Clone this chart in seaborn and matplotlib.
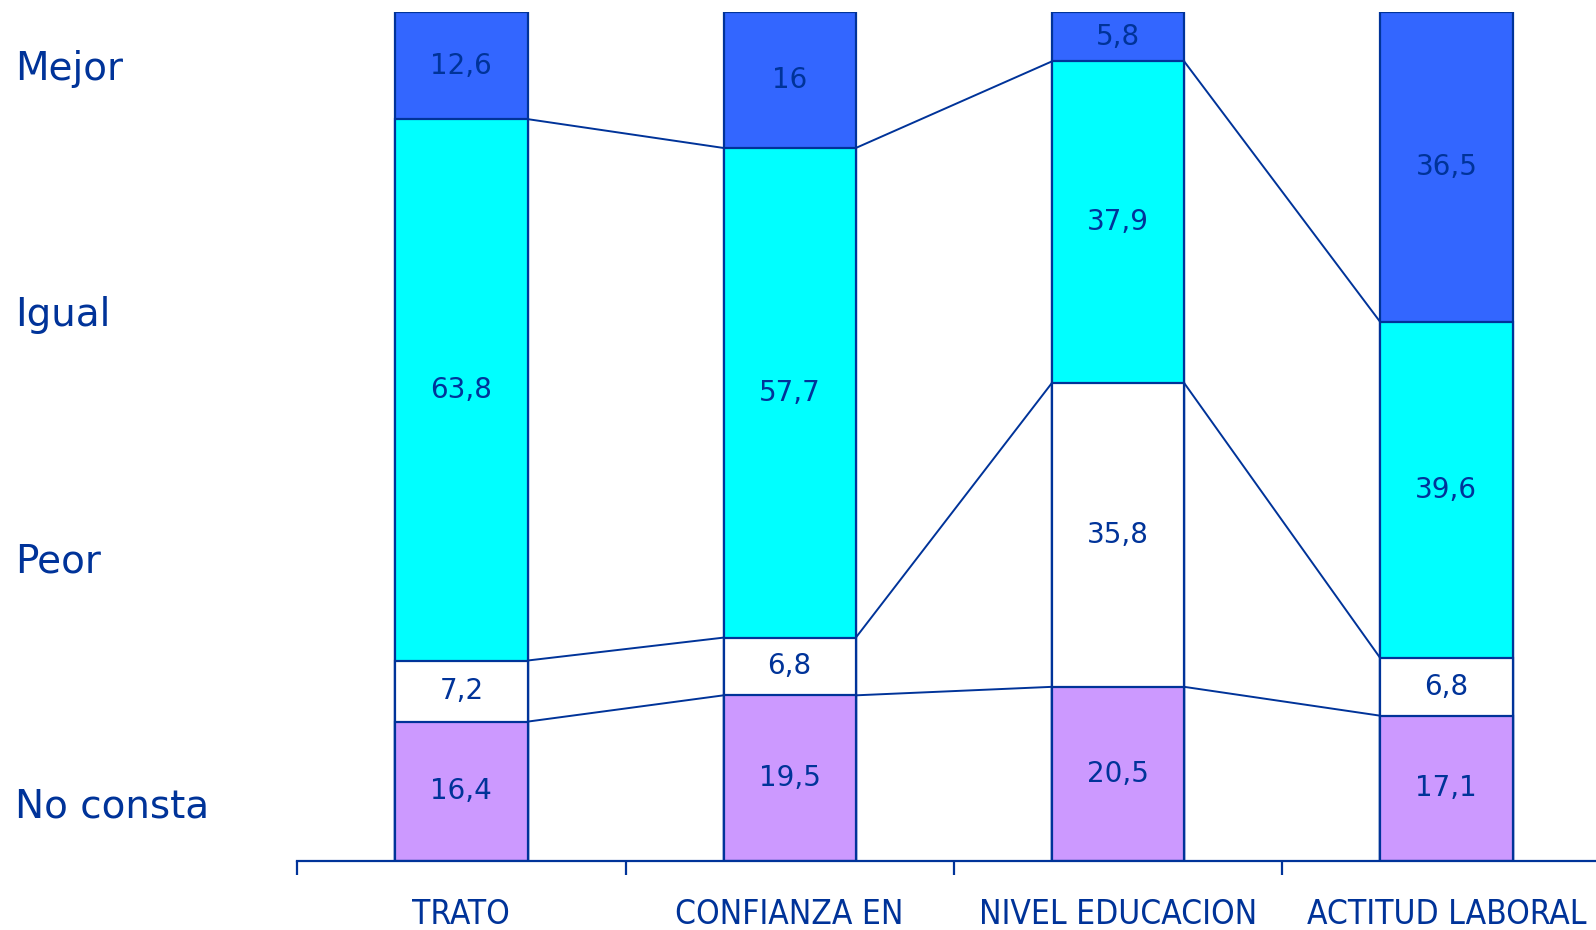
import numpy as np
import pandas as pd
import matplotlib
matplotlib.use("Agg")
import matplotlib.pyplot as plt
import seaborn as sns

# Datos (porcentajes)
categorias = ["TRATO", "CONFIANZA EN", "NIVEL EDUCACION", "ACTITUD LABORAL"]
no_consta = [16.4, 19.5, 20.5, 17.1]
peor = [7.2, 6.8, 35.8, 6.8]
igual = [63.8, 57.7, 37.9, 39.6]
mejor = [12.6, 16.0, 5.8, 36.5]

series = ["No consta", "Peor", "Igual", "Mejor"]
colores = {"No consta": "#CC99FF", "Peor": "#FFFFFF", "Igual": "#00FFFF", "Mejor": "#3366FF"}
azul = "#003399"

sns.set_style("white")
plt.rcParams["font.family"] = ["DejaVu Sans"]

df = pd.DataFrame({"cat": categorias, "No consta": no_consta, "Peor": peor,
                   "Igual": igual, "Mejor": mejor})
valores = df[series].to_numpy()
acum = np.cumsum(valores, axis=1)

fig = plt.figure(figsize=(15.96, 9.30), dpi=100)
ax = fig.add_axes([0.1862, 0.0744, 0.8229, 0.9125])

# Barras apiladas: se dibujan de la cima hacia abajo
for j in range(len(series) - 1, -1, -1):
    tmp = pd.DataFrame({"cat": categorias, "v": acum[:, j]})
    sns.barplot(data=tmp, x="cat", y="v", color=colores[series[j]], width=0.403,
                edgecolor=azul, linewidth=1.6, saturation=1, ax=ax, order=categorias)

# Líneas de unión entre barras
hw = 0.403 / 2
for i in range(len(categorias) - 1):
    for j in range(len(series) - 1):
        ax.plot([i + hw, i + 1 - hw], [acum[i, j], acum[i + 1, j]], color=azul, lw=1.4)

# Etiquetas de valores
for i in range(len(categorias)):
    for j in range(len(series)):
        v = valores[i, j]
        y = acum[i, j] - v / 2
        txt = f"{v:g}".replace(".", ",")
        ax.text(i, y, txt, ha="center", va="center", color=azul, fontsize=20)

ax.set_ylim(0, 100)
ax.set_xlim(-0.5, 3.454)
ax.set_xlabel("")
ax.set_ylabel("")
ax.set_yticks([])
for s in ["left", "right", "top"]:
    ax.spines[s].set_visible(False)
ax.spines["bottom"].set_color(azul)
ax.spines["bottom"].set_linewidth(1.6)
ax.set_xticks(range(len(categorias)))
ax.set_xticklabels(categorias, fontsize=24, color=azul, fontstretch="condensed")
ax.tick_params(axis="x", which="major", length=0, pad=27, bottom=True)
ax.set_xticks([-0.5, 0.5, 1.5, 2.5, 3.5], minor=True)
ax.tick_params(axis="x", which="minor", length=10, width=1.6, color=azul,
               direction="out", bottom=True)

# Leyenda a la izquierda
for lab, yf in zip(["Mejor", "Igual", "Peor", "No consta"], [0.9256, 0.6608, 0.396, 0.1324]):
    fig.text(0.0096, yf, lab, ha="left", va="center", color=azul, fontsize=28)

fig.savefig("out.png", dpi=100)
